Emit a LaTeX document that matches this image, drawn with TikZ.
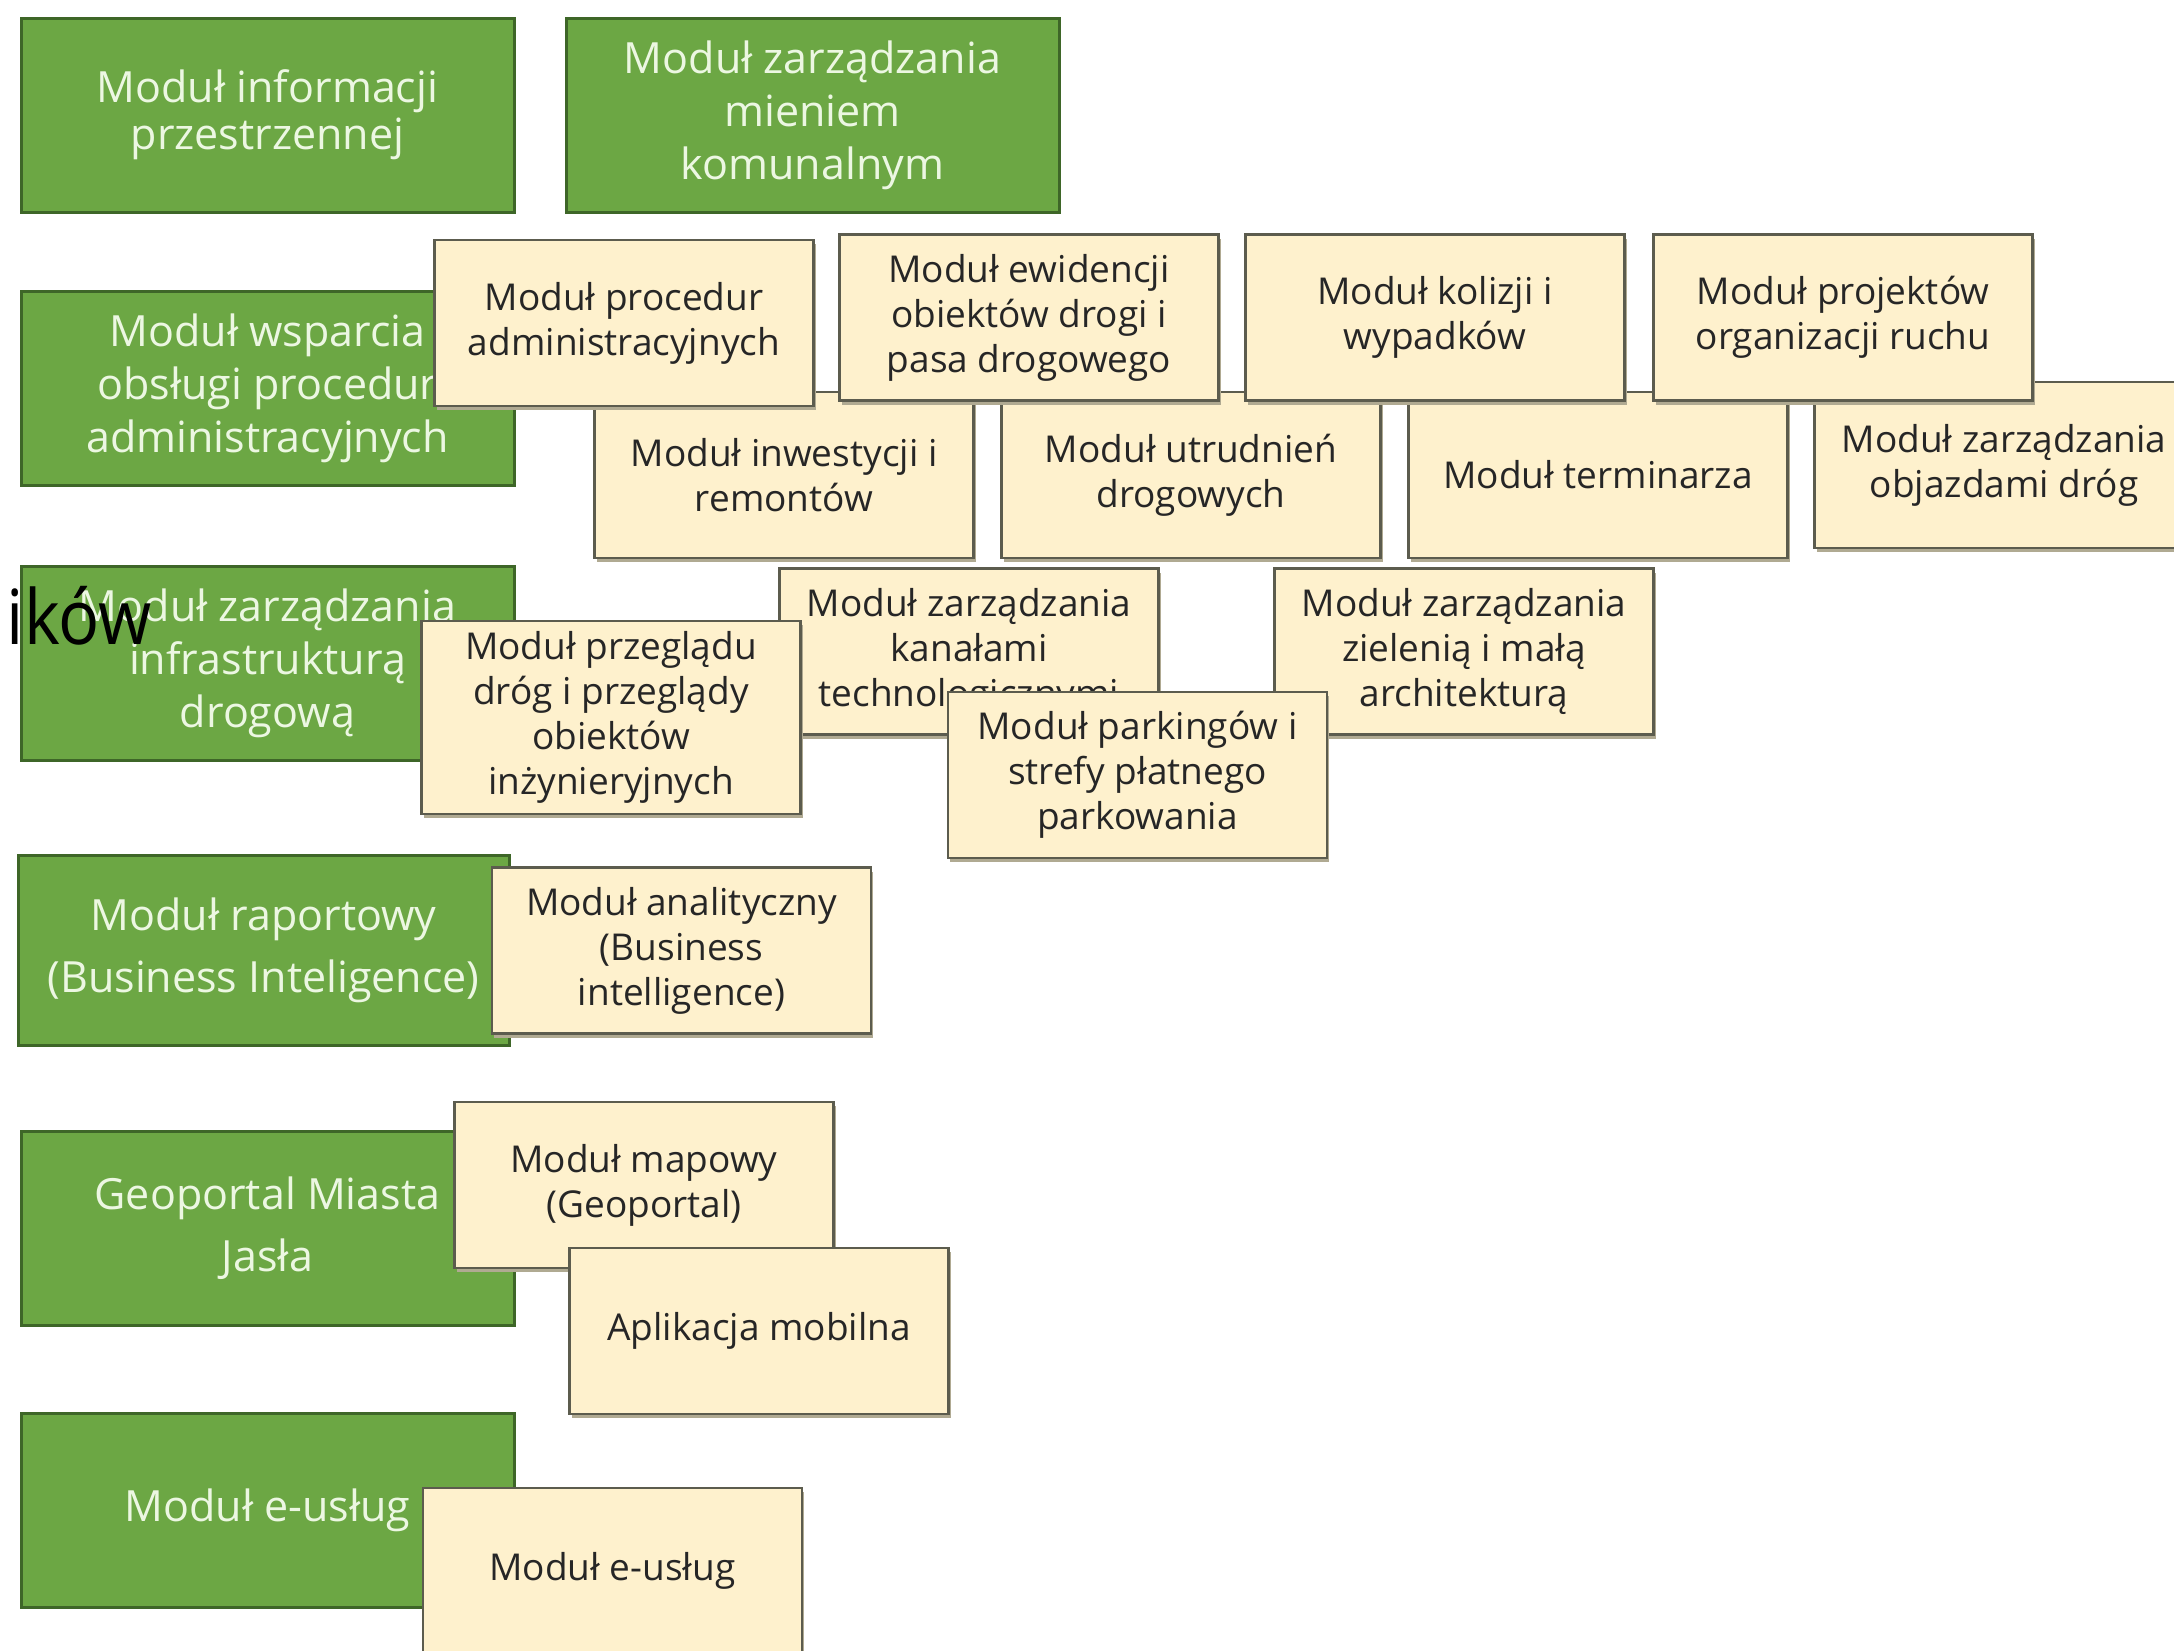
\documentclass[tikz,border=0pt]{standalone}
\usepackage{fontspec}
\setmainfont{Open Sans}
\newfontfamily\narrowfont[FakeStretch=0.9]{Open Sans}
\usepackage{tikz}
\usetikzlibrary{shadows}

\definecolor{modgreen}{RGB}{108,167,68}
\definecolor{greenline}{RGB}{62,102,40}
\definecolor{greentext}{RGB}{236,247,226}
\definecolor{beigefill}{RGB}{254,241,205}
\definecolor{beigeline}{RGB}{92,92,78}
\definecolor{shadowgrey}{RGB}{176,170,146}

\begin{document}
\begin{tikzpicture}[
	x=1pt, y=-1pt,
	every node/.style={
		inner sep=0pt,
		align=center
	},
	mainbox/.style={
		rectangle, draw=greenline, fill=modgreen,
		line width=3pt, text=greentext,
		minimum width=493pt, minimum height=194pt,
		font=\fontsize{43}{53}\selectfont
	},
	subbox/.style={
		rectangle, draw=beigeline, fill=beigefill,
		line width=2.5pt, text=black!85,
		minimum width=379pt, minimum height=166pt,
		font=\fontsize{37}{45}\selectfont,
		drop shadow={shadow xshift=2pt, shadow yshift=-4pt, fill=shadowgrey, opacity=1}
	}
]
\fill[white] (0,0) rectangle (2174,1650);
\useasboundingbox (0,0) rectangle (2174,1650);

\node[mainbox, font=\fontsize{43}{47}\selectfont] (gInfo) at (267.5,115) {Moduł informacji\\przestrzennej};
\node[mainbox] (gMienie) at (812.5,115) {Moduł zarządzania\\mieniem\\komunalnym};
\node[mainbox] (gWsparcie) at (267.5,388) {Moduł wsparcia\\obsługi procedur\\administracyjnych};
\node[mainbox] (gInfra) at (267.5,663) {Moduł zarządzania\\infrastrukturą\\drogową};
\node[mainbox, minimum width=491pt, minimum height=190pt,
	font=\fontsize{43}{62}\selectfont] (gRaport) at (263.5,950) {Moduł raportowy\\(Business Inteligence)};
\node[mainbox, font=\fontsize{43}{62}\selectfont] (gGeo) at (267.5,1228) {Geoportal Miasta\\Jasła};
\node[mainbox] (gEusl) at (267.5,1510) {Moduł e-usług};

\node[font=\narrowfont\fontsize{76}{84}\selectfont, anchor=base east] (frag) at (152,644) {ików};

\node[subbox] (bInwest) at (784,475) {Moduł inwestycji i\\remontów};
\node[subbox] (bUtrud) at (1191,475) {Moduł utrudnień\\drogowych};
\node[subbox] (bTermin) at (1598,475) {Moduł terminarza};
\node[subbox] (bObjazd) at (2004,465) {Moduł zarządzania\\objazdami dróg};

\node[subbox] (bProc) at (624,323) {Moduł procedur\\administracyjnych};
\node[subbox] (bEwid) at (1029,317.5) {Moduł ewidencji\\obiektów drogi i\\pasa drogowego};
\node[subbox] (bKoliz) at (1435,317.5) {Moduł kolizji i\\wypadków};
\node[subbox] (bProj) at (1843,317.5) {Moduł projektów\\organizacji ruchu};

\node[subbox] (bKanal) at (969,651.5) {Moduł zarządzania\\kanałami\\technologicznymi};
\node[subbox] (bZielen) at (1464,651.5) {Moduł zarządzania\\zielenią i małą\\architekturą};
\node[subbox, minimum height=193pt] (bPrzeg) at (611,717.5) {Moduł przeglądu\\dróg i przeglądy\\obiektów\\inżynieryjnych};
\node[subbox] (bPark) at (1137.5,775) {Moduł parkingów i\\strefy płatnego\\parkowania};

\node[subbox] (bAnal) at (681.5,950.5) {Moduł analityczny\\(Business\\intelligence)};
\node[subbox] (bMapa) at (644,1185) {Moduł mapowy\\(Geoportal)};
\node[subbox] (bMobil) at (759,1331) {Aplikacja mobilna};
\node[subbox] (bEusl) at (612.5,1571) {Moduł e-usług};
\end{tikzpicture}
\end{document}
